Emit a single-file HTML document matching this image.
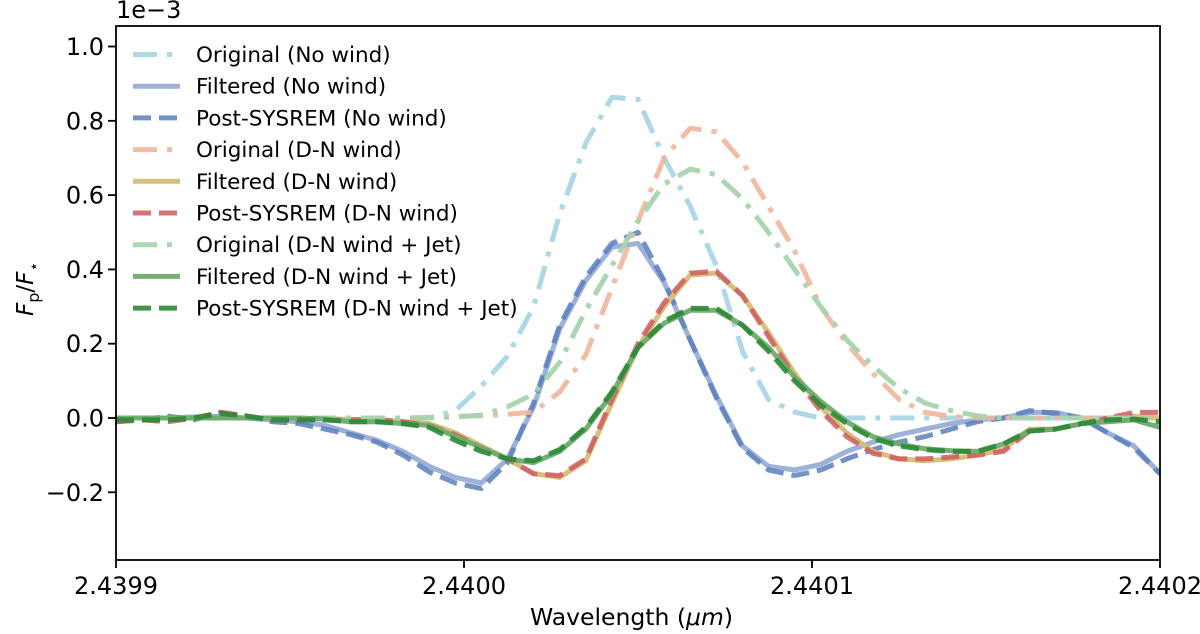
<!DOCTYPE html>
<html><head><meta charset="utf-8"><style>
body{margin:0;background:#fff}
svg{display:block;font-family:"DejaVu Sans","Liberation Sans",sans-serif}
</style></head><body>
<svg id="chart" width="1200" height="634" viewBox="0 0 1200 634">
<g id="plot"></g>
</svg>
<script>
const wlOffsets = [0,0.75,1.5,2.25,3,3.75,4.5,5.25,6,6.75,7.5,8.25,9,9.75,10.5,11.25,12,12.75,13.5,14.25,15,15.75,16.5,17.25,18,18.75,19.5,20.25,21,21.75,22.5,23.25,24,24.75,25.5,26.25,27,27.75,28.5,29.25,30];
const origNoWind = [0,0,0,0,0,0,0,0,0,0,0,0,0,0.02,0.086,0.167,0.30,0.55,0.74,0.863,0.858,0.70,0.57,0.41,0.18,0.05,0.016,0,0,0,0,0,0,0,0,0,0,0,0,0,0];
const filtNoWind = [0,0,0,0.003,0.005,0,-0.005,-0.01,-0.02,-0.04,-0.06,-0.09,-0.13,-0.16,-0.175,-0.11,0.03,0.24,0.37,0.46,0.47,0.365,0.21,0.06,-0.075,-0.13,-0.14,-0.125,-0.09,-0.065,-0.045,-0.03,-0.015,-0.005,0,0.015,0.015,0,-0.04,-0.075,-0.15];
const postNoWind = [-0.01,-0.005,0.005,-0.005,0.015,0.005,-0.01,-0.015,-0.03,-0.045,-0.065,-0.1,-0.145,-0.175,-0.19,-0.12,0.04,0.25,0.38,0.47,0.50,0.37,0.21,0.055,-0.08,-0.14,-0.155,-0.14,-0.11,-0.085,-0.065,-0.05,-0.03,-0.01,0,0.02,0.012,0,-0.04,-0.08,-0.15];
const origDN = [0,0,0,0,0,0,0,0,0,0,0,0,0.002,0.004,0.006,0.01,0.016,0.07,0.17,0.35,0.53,0.70,0.78,0.77,0.69,0.57,0.45,0.30,0.20,0.12,0.05,0.015,0.004,0,0,0,0,0,0,0,0];
const filtDN = [0,0,0,0,0,0,0,0,-0.002,-0.004,-0.003,-0.01,-0.015,-0.04,-0.075,-0.11,-0.15,-0.16,-0.115,0.04,0.19,0.30,0.385,0.39,0.33,0.23,0.12,0.03,-0.04,-0.09,-0.11,-0.115,-0.11,-0.10,-0.085,-0.03,-0.03,-0.015,0,0.005,0];
const postDN = [-0.01,-0.005,-0.01,0,0.015,0.005,-0.005,-0.005,-0.005,-0.005,-0.005,-0.01,-0.02,-0.045,-0.08,-0.11,-0.15,-0.155,-0.11,0.05,0.20,0.31,0.39,0.395,0.33,0.22,0.11,0.02,-0.05,-0.095,-0.11,-0.11,-0.105,-0.10,-0.09,-0.035,-0.03,-0.015,0,0.015,0.015];
const origJet = [0,0,0,0,0,0,0,0,0,0,0,0,0,0.003,0.008,0.03,0.065,0.15,0.29,0.41,0.53,0.63,0.67,0.655,0.59,0.50,0.40,0.30,0.21,0.14,0.08,0.04,0.02,0.006,0,0,0,0,0,0,0];
const filtJet = [0,0,0,0,0,0,0,0,-0.003,-0.01,-0.01,-0.015,-0.02,-0.05,-0.08,-0.11,-0.12,-0.09,-0.03,0.065,0.19,0.255,0.29,0.29,0.25,0.19,0.11,0.045,-0.01,-0.05,-0.07,-0.083,-0.088,-0.09,-0.07,-0.035,-0.03,-0.015,-0.01,-0.005,-0.025];
const postJet = [-0.005,-0.005,-0.005,0,0.012,0.005,-0.005,-0.005,-0.005,-0.01,-0.01,-0.015,-0.025,-0.06,-0.09,-0.11,-0.115,-0.085,-0.025,0.07,0.19,0.26,0.295,0.295,0.25,0.18,0.10,0.035,-0.015,-0.055,-0.075,-0.085,-0.09,-0.09,-0.07,-0.035,-0.03,-0.015,-0.005,-0.003,-0.01];
const xTickLabels = ["2.4399","2.4400","2.4401","2.4402"];
const xTickValues = [0,10,20,30];
const yTickLabels = ["\u22120.2","0.0","0.2","0.4","0.6","0.8","1.0"];
const yTickValues = [-0.2,0,0.2,0.4,0.6,0.8,1.0];
const seriesNames = ["Original (No wind)","Filtered (No wind)","Post-SYSREM (No wind)","Original (D-N wind)","Filtered (D-N wind)","Post-SYSREM (D-N wind)","Original (D-N wind + Jet)","Filtered (D-N wind + Jet)","Post-SYSREM (D-N wind + Jet)"];

const L=116,R=1160,T=26,B=560;
const xS=v=>L+(v-0)*(R-L)/30;
const yS=v=>418-v*371.5;
const NS="http://www.w3.org/2000/svg";
const svg=document.getElementById('chart');
function mk(tag,attrs,parent){const e=document.createElementNS(NS,tag);for(const k in attrs)e.setAttribute(k,attrs[k]);(parent||svg).appendChild(e);return e;}
const plot=document.getElementById('plot');
const clip=mk('clipPath',{id:'clp'});mk('rect',{x:L,y:T,width:R-L,height:B-T},clip);
plot.setAttribute('clip-path','url(#clp)');
const DD="24 10 5 10", DS="18 8";
const styles=[
 {c:"#a9d6e5",d:DD,o:0.95},{c:"#9db1d9",d:"",o:1},{c:"#5a7fbd",d:DS,o:0.85},
 {c:"#efb69c",d:DD,o:0.9},{c:"#d6c07e",d:"",o:1},{c:"#cf5c5f",d:DS,o:0.85},
 {c:"#a6d4ae",d:DD,o:0.95},{c:"#6fab6f",d:"",o:0.95},{c:"#2c8a36",d:DS,o:0.9}];
const data=[origNoWind,filtNoWind,postNoWind,origDN,filtDN,postDN,origJet,filtJet,postJet];
const keys=['original-no-wind','filtered-no-wind','post-sysrem-no-wind','original-dn-wind','filtered-dn-wind','post-sysrem-dn-wind','original-dn-jet','filtered-dn-jet','post-sysrem-dn-jet'];
data.forEach((arr,i)=>{
 const d=arr.map((v,j)=>(j?'L':'M')+xS(wlOffsets[j]).toFixed(1)+','+yS(v).toFixed(1)).join('');
 const p=mk('path',{d:d,fill:'none',stroke:styles[i].c,'stroke-width':5,'stroke-opacity':styles[i].o,'stroke-dasharray':styles[i].d,'stroke-linejoin':'round'},plot);
 
 
});
const fr=mk('rect',{x:L,y:T,width:R-L,height:B-T,fill:'none',stroke:'#000','stroke-width':1.8});


xTickValues.forEach((v,i)=>{
 const x=xS(v);
 mk('line',{x1:x,x2:x,y1:B,y2:B+8,stroke:'#000','stroke-width':1.8});
 const t=mk('text',{x:x,y:594,'font-size':24,'text-anchor':'middle'});t.textContent=xTickLabels[i];
 
 
});
yTickValues.forEach((v,i)=>{
 const y=yS(v);
 mk('line',{x1:L-8,x2:L,y1:y,y2:y,stroke:'#000','stroke-width':1.8});
 const t=mk('text',{x:L-12,y:y+8.5,'font-size':24,'text-anchor':'end'});t.textContent=yTickLabels[i];
 
 
});
seriesNames.forEach((n,i)=>{
 const y=54.5+i*31.7;
 const g=mk('g',{});
 
 
 mk('line',{x1:133,x2:180,y1:y,y2:y,stroke:styles[i].c,'stroke-width':5,'stroke-opacity':styles[i].o,'stroke-dasharray':styles[i].d},g);
 const t=mk('text',{x:196,y:y+7.5,'font-size':21.5},g);t.textContent=n;
});
</script>
<div style="position:absolute;left:116px;top:-4px;font:24px 'DejaVu Sans','Liberation Sans',sans-serif">1e−3</div>
<div style="position:absolute;left:530px;top:603px;font:23.5px 'DejaVu Sans','Liberation Sans',sans-serif">Wavelength (<i>μm</i>)</div>
<div style="position:absolute;left:-22px;top:274px;transform:rotate(-90deg);transform-origin:center;width:100px;text-align:center;font:23px 'DejaVu Sans','Liberation Sans',sans-serif"><i>F</i><sub style="font-size:16px">p</sub>/<i>F</i><sub style="font-size:16px">⋆</sub></div>
</body></html>
